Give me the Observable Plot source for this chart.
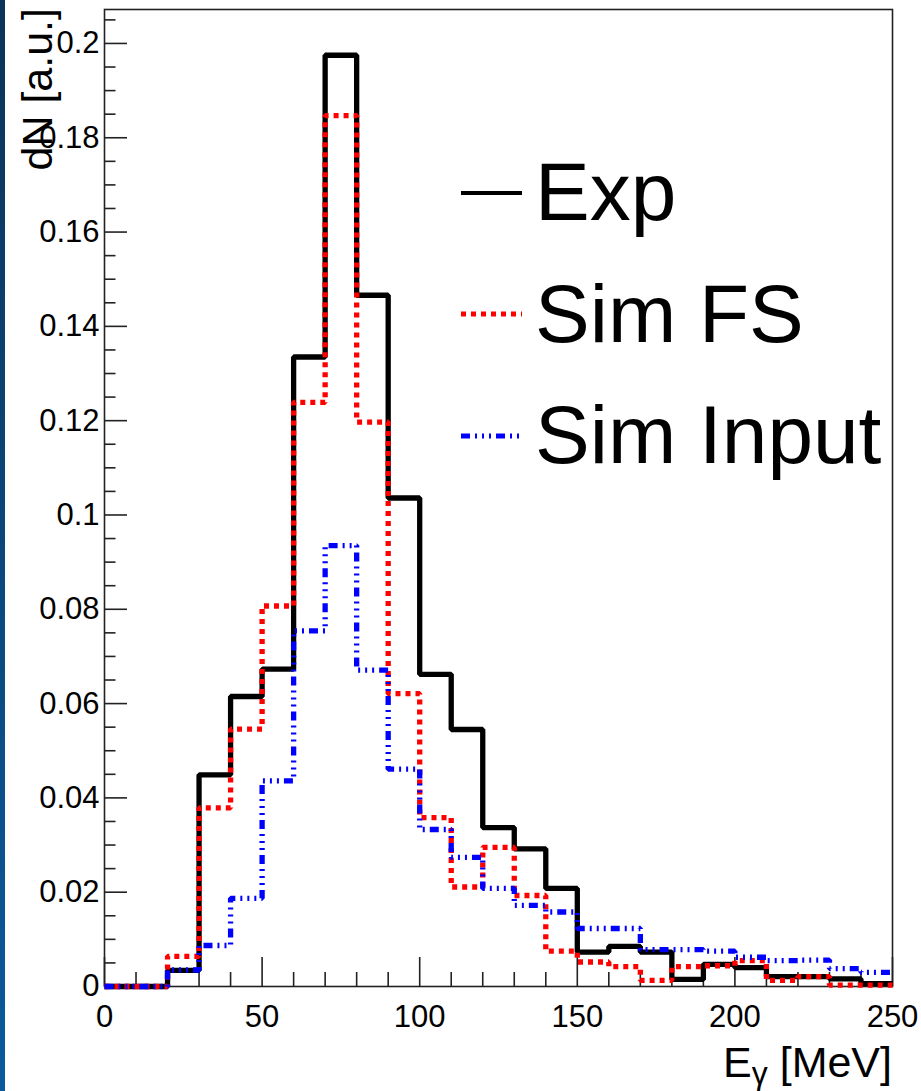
<!DOCTYPE html>
<html>
<head>
<meta charset="utf-8">
<script src="https://cdn.jsdelivr.net/npm/d3@7"></script>
<script src="https://cdn.jsdelivr.net/npm/@observablehq/plot@0.6"></script>
<style>
  html, body { margin: 0; padding: 0; background: #ffffff; }
  #wrap { position: relative; width: 921px; height: 1091px; overflow: hidden; background: #fff; }
  #strip { position: absolute; left: 0; top: 0; width: 5px; height: 1091px;
           background: linear-gradient(to bottom, #0c3358, #0a5a9e); }
  #chart { position: absolute; left: 0; top: 0; }
</style>
</head>
<body>
<div id="wrap"><div id="chart"></div><div id="strip"></div></div>
<script>
// ---- data (bin low edges in MeV, bin width 10) ----
const binLow = [0,10,20,30,40,50,60,70,80,90,100,110,120,130,140,150,160,170,180,190,200,210,220,230,240];
const binWidth = 10;
const expVals = [0,0,0.0034,0.0449,0.0615,0.0673,0.1335,0.1975,0.1466,0.1036,0.0662,0.0545,0.0337,0.0292,0.0208,0.0073,0.0085,0.0073,0.0015,0.0047,0.0040,0.0021,0.0021,0.0016,0.0006];
const simFSVals = [0,0,0.0064,0.0379,0.0546,0.0807,0.1239,0.1847,0.1197,0.0621,0.0358,0.0211,0.0295,0.0193,0.0075,0.0052,0.0042,0.0013,0.0042,0.0044,0.0055,0.0013,0.0021,0.0003,0.0003];
const simInputVals = [0,0,0.0035,0.0087,0.0187,0.0436,0.0754,0.0935,0.0671,0.0461,0.0333,0.0274,0.0208,0.0172,0.0158,0.0123,0.0123,0.0078,0.0078,0.0075,0.0062,0.0055,0.0056,0.0038,0.0030];

const seriesNames = ["Exp", "Sim FS", "Sim Input"];
const seriesColors = ["#000000", "#ff0000", "#0000ff"];
const seriesDash = [null, "5,5", "9,5,2,5,2,5,2,5"];

const xMajor = [0,50,100,150,200,250];
const xMajorLabels = ["0","50","100","150","200","250"];
const xMinor = [10,20,30,40,60,70,80,90,110,120,130,140,160,170,180,190,210,220,230,240];
const yMajor = [0,0.02,0.04,0.06,0.08,0.1,0.12,0.14,0.16,0.18,0.2];
const yMajorLabels = ["0","0.02","0.04","0.06","0.08","0.1","0.12","0.14","0.16","0.18","0.2"];
const yMinor = [0.005,0.01,0.015,0.025,0.03,0.035,0.045,0.05,0.055,0.065,0.07,0.075,0.085,0.09,0.095,0.105,0.11,0.115,0.125,0.13,0.135,0.145,0.15,0.155,0.165,0.17,0.175,0.185,0.19,0.195,0.205];
const xDomain = [0, 250];
const yDomain = [0, 0.2072];

const xTitle = ["E", "γ", " [MeV]"];
const yTitle = "dN [a.u.]";

// build step outlines from the bins
function steps(vals) {
  const pts = binLow.map((x, i) => ({x, y: vals[i]}));
  pts.push({x: binLow[binLow.length - 1] + binWidth, y: vals[vals.length - 1]});
  return pts;
}
const allVals = [expVals, simFSVals, simInputVals];

const axisStroke = "#222";
const W = 921, H = 1091;
const mL = 104, mR = 29, mT = 9, mB = 105;
const tickFont = 31;

const plot = Plot.plot({
  width: W, height: H,
  marginLeft: mL, marginRight: mR, marginTop: mT, marginBottom: mB,
  style: {fontFamily: "'Liberation Sans', Arial, sans-serif", fontSize: tickFont + "px", background: "white", color: "black"},
  x: {domain: xDomain},
  y: {domain: yDomain},
  marks: [
    Plot.axisY({ticks: yMajor, tickSize: 23, dx: 23, tickFormat: () => "", label: null, stroke: axisStroke, strokeWidth: 1.6}),
    Plot.axisY({ticks: yMinor, tickSize: 11.5, dx: 11.5, tickFormat: () => "", label: null, stroke: axisStroke, strokeWidth: 1.6}),
    Plot.axisY({ticks: yMajor, tickSize: 0, tickPadding: 5, tickFormat: d => yMajorLabels[yMajor.indexOf(d)], label: null, fontSize: tickFont}),
    Plot.axisX({ticks: xMajor, tickSize: 29, dy: -29, tickFormat: () => "", label: null, stroke: axisStroke, strokeWidth: 1.6}),
    Plot.axisX({ticks: xMinor, tickSize: 14, dy: -14, tickFormat: () => "", label: null, stroke: axisStroke, strokeWidth: 1.6}),
    Plot.axisX({ticks: xMajor, tickSize: 0, tickPadding: 18, tickFormat: d => xMajorLabels[xMajor.indexOf(d)], label: null, fontSize: tickFont}),
    Plot.frame({stroke: axisStroke, strokeWidth: 1.6}),
    ...allVals.map((vals, k) => Plot.line(steps(vals), {
      x: "x", y: "y", curve: "step-after",
      stroke: seriesColors[k], strokeWidth: 5.3,
      strokeDasharray: seriesDash[k] || undefined,
      strokeLinejoin: "miter", strokeLinecap: "butt"
    }))
  ]
});
document.getElementById("chart").appendChild(plot);

const svg = d3.select(plot);
const font = "'Liberation Sans', Arial, sans-serif";

// x title with subscript gamma
const xt = svg.append("text")
  .attr("x", W - mR).attr("y", 1077)
  .attr("text-anchor", "end")
  .attr("font-family", font).attr("font-size", 43).attr("fill", "black");
xt.append("tspan").text(xTitle[0]);
xt.append("tspan").attr("font-size", 32).attr("dy", 7).text(xTitle[1]);
xt.append("tspan").attr("dy", -7).text(xTitle[2]);

// y title, rotated
svg.append("text")
  .attr("transform", "translate(52,8) rotate(-90)")
  .attr("text-anchor", "end")
  .attr("font-family", font).attr("font-size", 43).attr("fill", "black")
  .text(yTitle);

// legend
const legY = [193, 314, 436];
const legText = [220, 342, 463];
seriesNames.forEach((name, k) => {
  const ln = svg.append("line")
    .attr("x1", 461).attr("x2", 522).attr("y1", legY[k]).attr("y2", legY[k])
    .attr("stroke", seriesColors[k]).attr("stroke-width", k === 0 ? 4 : 5);
  if (seriesDash[k]) ln.attr("stroke-dasharray", seriesDash[k]);
  svg.append("text")
    .attr("x", 535).attr("y", legText[k])
    .attr("text-anchor", "start")
    .attr("font-family", font).attr("font-size", 82).attr("fill", "black")
    .text(name);
});
</script>
</body>
</html>
